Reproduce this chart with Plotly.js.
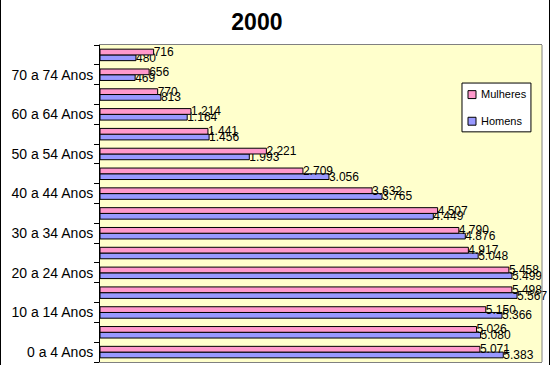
<!DOCTYPE html>
<html>
<head>
<meta charset="utf-8">
<script src="https://cdn.plot.ly/plotly-3.0.1.min.js"></script>
<style>
html,body{margin:0;padding:0;background:#fff;}
#chart{width:548px;height:365px;border-left:1px solid #000;border-right:1px solid #000;}
</style>
</head>
<body>
<div id="chart"></div>
<script>
var categories = ["0 a 4 Anos","5 a 9 Anos","10 a 14 Anos","15 a 19 Anos","20 a 24 Anos","25 a 29 Anos","30 a 34 Anos","35 a 39 Anos","40 a 44 Anos","45 a 49 Anos","50 a 54 Anos","55 a 59 Anos","60 a 64 Anos","65 a 69 Anos","70 a 74 Anos","75 a 79 Anos"];
var tickLabels = ["0 a 4 Anos","","10 a 14 Anos","","20 a 24 Anos","","30 a 34 Anos","","40 a 44 Anos","","50 a 54 Anos","","60 a 64 Anos","","70 a 74 Anos",""];
var mulheres = [5071,5026,5150,5498,5458,4917,4790,4507,3632,2709,2221,1441,1214,770,656,716];
var homens   = [5383,5080,5366,5567,5499,5048,4876,4449,3765,3056,1993,1456,1164,813,469,480];
var seriesNames = ["Mulheres", "Homens"];
var seriesColors = ["#FF99CC", "#9999FF"];

function fmt(v){ return String(v).replace(/\B(?=(\d{3})+(?!\d))/g, "."); }

var font = "Arial, 'Liberation Sans', sans-serif";

var traces = [
  {
    type: "bar", orientation: "h", name: seriesNames[1],
    x: homens, y: categories,
    text: homens.map(fmt), textposition: "outside", cliponaxis: false, constraintext: "none",
    textfont: {family: font, size: 12, color: "#000"},
    marker: {color: seriesColors[1], line: {color: "#000", width: 1}},
    hoverinfo: "x+y", showlegend: false
  },
  {
    type: "bar", orientation: "h", name: seriesNames[0],
    x: mulheres, y: categories,
    text: mulheres.map(fmt), textposition: "outside", cliponaxis: false, constraintext: "none",
    textfont: {family: font, size: 12, color: "#000"},
    marker: {color: seriesColors[0], line: {color: "#000", width: 1}},
    hoverinfo: "x+y", showlegend: false
  }
];

// legend drawn as a box in paper coordinates
var legendShapes = [
  {type: "rect", xref: "paper", yref: "paper", x0: 0.819, x1: 0.975, y0: 0.726, y1: 0.880,
   fillcolor: "#FFFFFF", line: {color: "#000", width: 1}, layer: "above"},
  {type: "rect", xref: "paper", yref: "paper", x0: 0.8326, x1: 0.8507, y0: 0.831, y1: 0.856,
   fillcolor: seriesColors[0], line: {color: "#000", width: 1}, layer: "above"},
  {type: "rect", xref: "paper", yref: "paper", x0: 0.8326, x1: 0.8507, y0: 0.747, y1: 0.772,
   fillcolor: seriesColors[1], line: {color: "#000", width: 1}, layer: "above"}
];
var legendTexts = [
  {xref: "paper", yref: "paper", x: 0.858, y: 0.844, xanchor: "left", yanchor: "middle", showarrow: false,
   text: seriesNames[0], font: {family: font, size: 11, color: "#000"}},
  {xref: "paper", yref: "paper", x: 0.858, y: 0.760, xanchor: "left", yanchor: "middle", showarrow: false,
   text: seriesNames[1], font: {family: font, size: 11, color: "#000"}}
];

var layout = {
  width: 548, height: 365,
  margin: {l: 99, r: 7, t: 45, b: 3, pad: 0},
  paper_bgcolor: "#FFFFFF",
  plot_bgcolor: "#FFFFCC",
  barmode: "group",
  bargap: 0.42,
  bargroupgap: 0,
  title: {text: "<b>2000</b>", font: {family: font, size: 23, color: "#000"}, xref: "container", x: 0.467, xanchor: "center", y: 0.94, yanchor: "middle"},
  showlegend: false,
  xaxis: {
    range: [0, 5900], showticklabels: false, ticks: "", showgrid: false, zeroline: false,
    showline: true, linecolor: "#808080", linewidth: 1, mirror: true, fixedrange: true
  },
  yaxis: {
    type: "category", categoryorder: "array", categoryarray: categories,
    tickmode: "array", tickvals: categories, ticktext: tickLabels,
    tickson: "boundaries", ticks: "outside", ticklen: 5, tickcolor: "#000", tickwidth: 1,
    ticklabelstandoff: 3,
    showline: true, linecolor: "#000", linewidth: 1,
    showgrid: false, zeroline: false,
    tickfont: {family: font, size: 14, color: "#000"},
    range: [-0.5, 15.5], fixedrange: true
  },
  shapes: [
    {type: "line", xref: "paper", yref: "paper", x0: 1, x1: 1, y0: 0, y1: 1, line: {color: "#808080", width: 1}}
  ].concat(legendShapes),
  annotations: legendTexts
};

Plotly.newPlot("chart", traces, layout, {displayModeBar: false, staticPlot: true});
</script>
</body>
</html>
